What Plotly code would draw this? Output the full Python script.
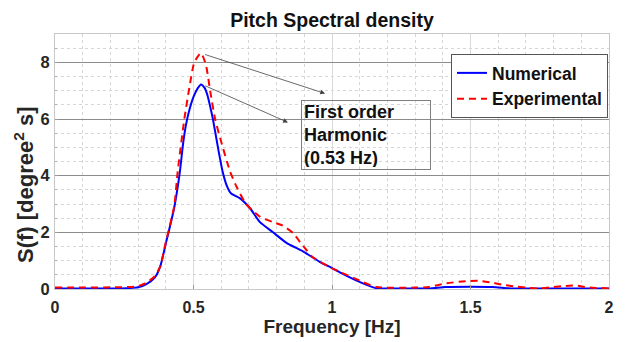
import plotly.graph_objects as go

# Numerical spectrum
f_num = [0.0, 0.1, 0.2, 0.26, 0.3, 0.33, 0.36, 0.38, 0.40, 0.43, 0.451, 0.462, 0.473, 0.486,
         0.50, 0.515, 0.527, 0.54, 0.55, 0.56, 0.57, 0.59, 0.605, 0.62, 0.635, 0.668, 0.704,
         0.74, 0.787, 0.837, 0.895, 0.957, 1.0, 1.03, 1.10, 1.16, 1.25, 1.35, 1.41, 1.5,
         1.58, 1.65, 1.75, 1.85, 2.0]
s_num = [0.02, 0.02, 0.02, 0.03, 0.06, 0.17, 0.4, 0.8, 1.6, 2.85, 4.15, 5.1, 5.8, 6.35,
         6.78, 7.08, 7.22, 7.1, 6.85, 6.45, 6.0, 4.9, 4.15, 3.65, 3.38, 3.2, 2.85,
         2.36, 2.0, 1.62, 1.33, 0.95, 0.74, 0.58, 0.25, 0.03, 0.02, 0.02, 0.07, 0.08,
         0.07, 0.02, 0.02, 0.02, 0.02]

# Experimental spectrum
f_exp = [0.0, 0.1, 0.2, 0.26, 0.3, 0.33, 0.36, 0.38, 0.40, 0.43, 0.443, 0.467, 0.485, 0.503,
         0.527, 0.545, 0.56, 0.578, 0.60, 0.632, 0.656, 0.69, 0.74, 0.787, 0.82, 0.86,
         0.885, 0.91, 0.93, 0.99, 1.076, 1.16, 1.3, 1.35, 1.41, 1.49, 1.53, 1.58, 1.62,
         1.67, 1.74, 1.83, 1.88, 1.92, 2.0]
s_exp = [0.05, 0.05, 0.06, 0.07, 0.1, 0.22, 0.45, 0.8, 1.65, 2.9, 4.15, 6.0, 7.1, 8.0,
         8.33, 7.9, 7.0, 6.0, 5.2, 4.15, 3.6, 3.0, 2.55, 2.36, 2.25, 1.97,
         1.65, 1.35, 1.13, 0.78, 0.4, 0.07, 0.05, 0.07, 0.2, 0.28, 0.29, 0.22, 0.14,
         0.08, 0.02, 0.1, 0.12, 0.06, 0.02]

x_ticks = [0, 0.5, 1, 1.5, 2]
x_tick_labels = ["0", "0.5", "1", "1.5", "2"]
y_ticks = [0, 2, 4, 6, 8]
y_tick_labels = ["0", "2", "4", "6", "8"]

ref_line_x = 0.5
# arrows: (tail x, tail y) -> (head x, head y)
arrow_exp = (0.531, 8.31, 0.975, 6.9)
arrow_num = (0.531, 7.22, 0.841, 5.88)
harmonic_text = "First order<br>Harmonic<br>(0.53 Hz)"

FONT = "Liberation Sans, Arial, sans-serif"
TXT = "#262626"

fig = go.Figure()
fig.add_trace(go.Scatter(x=f_num, y=s_num, mode="lines", name="Numerical",
                         line=dict(color="#0000ff", width=2, shape="spline", smoothing=0.6)))
fig.add_trace(go.Scatter(x=f_exp, y=s_exp, mode="lines", name="Experimental",
                         line=dict(color="#ff0000", width=2, dash="7px,5px",
                                   shape="spline", smoothing=0.6)))

fig.add_shape(type="line", xref="x", yref="paper", x0=ref_line_x, x1=ref_line_x,
              y0=0, y1=1, line=dict(color="#333333", width=1), layer="below")

for tx, ty, hx, hy in (arrow_exp, arrow_num):
    fig.add_annotation(x=hx, y=hy, ax=tx, ay=ty, xref="x", yref="y", axref="x", ayref="y",
                       text=" ", showarrow=True, arrowhead=2, arrowsize=1.2,
                       arrowwidth=0.8, arrowcolor="#444444", standoff=0, startstandoff=0)

fig.add_annotation(x=(301 - 55) / 554, y=(289 - 100) / 255, xref="paper", yref="paper",
                   xanchor="left", yanchor="top", text=harmonic_text, showarrow=False,
                   align="left", width=124, height=64, borderwidth=1, borderpad=2,
                   bordercolor="#7f7f7f", valign="middle",
                   font=dict(family=FONT, size=18, color="#111111", weight="bold"))

# y-axis title as annotation to match placement
fig.add_annotation(x=(24 - 55) / 554, y=(289 - 185) / 255, xref="paper", yref="paper",
                   xanchor="center", yanchor="middle",
                   text="S(f) [degree<sup>2</sup> s]", textangle=-90, showarrow=False,
                   font=dict(family=FONT, size=22, color=TXT, weight="bold"))

fig.update_layout(
    width=628, height=342,
    margin=dict(l=55, r=19, t=34, b=53),
    paper_bgcolor="white", plot_bgcolor="white",
    font=dict(family=FONT, color=TXT, weight="bold"),
    title=dict(text="Pitch Spectral density", x=(55 + 609) / 2 / 628, xanchor="center",
               y=1 - 20 / 342, yanchor="middle",
               font=dict(family=FONT, size=19.5, color="#111111", weight="bold")),
    showlegend=True,
    legend=dict(x=(451 - 55) / 554, y=(289 - 54) / 255, xanchor="left", yanchor="top",
                bgcolor="white", bordercolor="#555555", borderwidth=1,
                font=dict(family=FONT, size=17.5, color="#111111", weight="bold"),
                tracegroupgap=0, itemwidth=30),
)

fig.update_xaxes(range=[0, 2], tickvals=x_ticks, ticktext=x_tick_labels,
                 automargin=False,
                 tickfont=dict(family=FONT, size=16, color=TXT, weight="bold"),
                 ticklabelstandoff=4,
                 title=dict(text="Frequency [Hz]", standoff=4,
                            font=dict(family=FONT, size=19, color=TXT, weight="bold")),
                 showgrid=True, gridcolor="#dadada", gridwidth=1,
                 minor=dict(dtick=0.1, showgrid=True, gridcolor="#d6d6d6", griddash="dot",
                            ticks=""),
                 showline=True, linecolor="#c8c8c8", linewidth=1, mirror=True,
                 ticks="inside", ticklen=4, tickcolor="#9a9a9a",
                 zeroline=False)
fig.update_yaxes(range=[0, 9], tickvals=y_ticks, ticktext=y_tick_labels,
                 automargin=False,
                 tickfont=dict(family=FONT, size=16.5, color=TXT, weight="bold"),
                 ticklabelstandoff=1,
                 showgrid=True, gridcolor="#8c8c8c", gridwidth=1,
                 minor=dict(dtick=0.5, showgrid=True, gridcolor="#d6d6d6", griddash="dot",
                            ticks="inside", ticklen=2, tickcolor="#b0b0b0"),
                 showline=True, linecolor="#c8c8c8", linewidth=1, mirror=True,
                 ticks="inside", ticklen=4, tickcolor="#9a9a9a",
                 zeroline=False)

fig.write_html("out.html")
